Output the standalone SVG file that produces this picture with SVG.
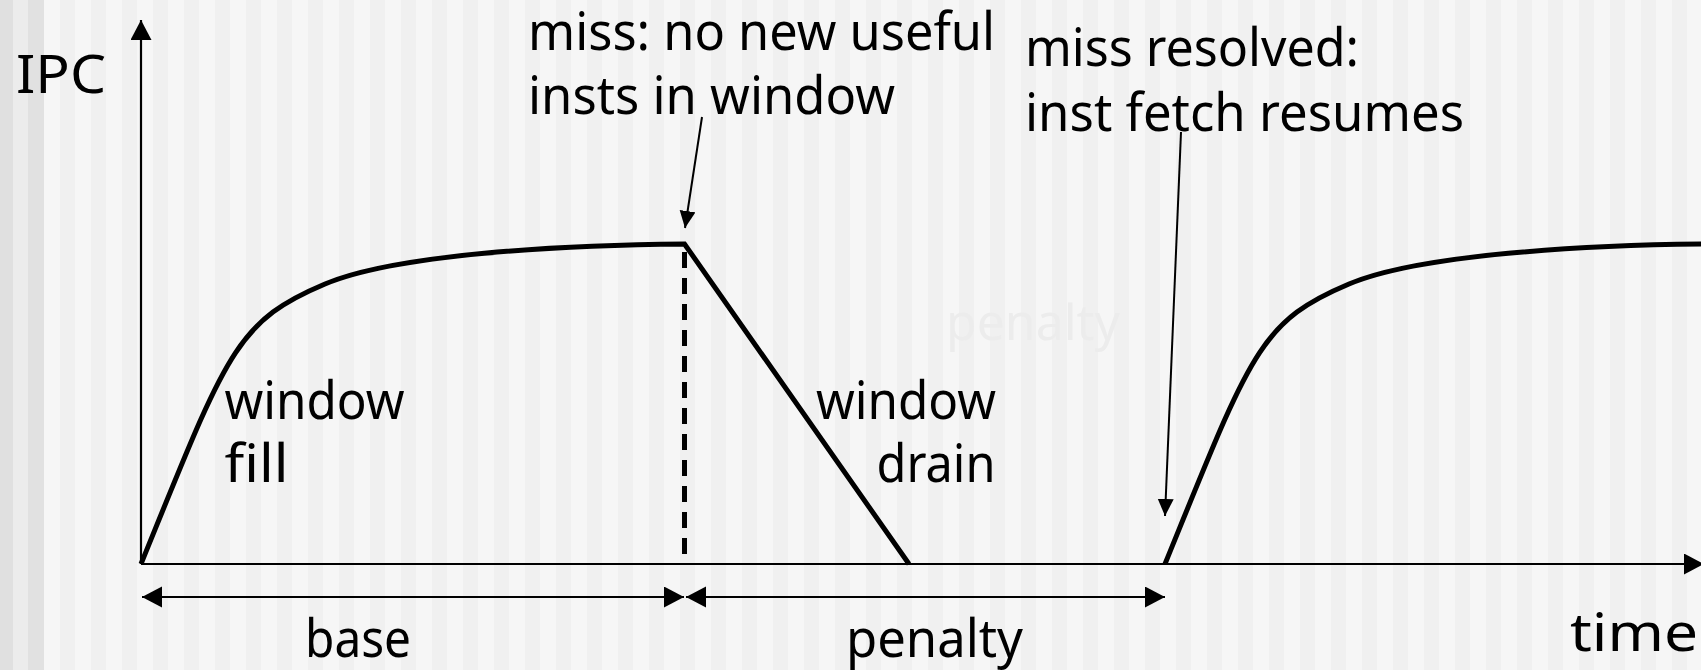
<svg xmlns="http://www.w3.org/2000/svg" width="1701" height="670" viewBox="0 0 1701 670">
  <defs>
    <pattern id="stripes" x="44" y="0" width="31" height="20" patternUnits="userSpaceOnUse">
      <rect x="0" y="0" width="15.5" height="20" fill="#f6f6f6"/>
      <rect x="15.5" y="0" width="15.5" height="20" fill="#f0f0f0"/>
    </pattern>
    <marker id="head" markerUnits="userSpaceOnUse" markerWidth="22" markerHeight="22" refX="20" refY="10.5" orient="auto-start-reverse">
      <path d="M0,0 L20,10.5 L0,21 z" fill="#000"/>
    </marker>
    <marker id="pointer" markerUnits="userSpaceOnUse" markerWidth="18" markerHeight="18" refX="17" refY="8" orient="auto">
      <path d="M0,0 L17,8 L0,16 z" fill="#000"/>
    </marker>
  </defs>
  <style>
    .lbl { font-family: "Noto Sans", "Open Sans", sans-serif; font-size: 52px; fill: #000; }
    .ghost { font-family: "Noto Sans", "Open Sans", sans-serif; font-size: 50px; fill: #ececec; }
    .axis { stroke: #000; stroke-width: 2.2; fill: none; }
    .curve { stroke: #000; stroke-width: 5; fill: none; stroke-linejoin: miter; }
    .thin { stroke: #000; stroke-width: 2; fill: none; }
  </style>

  <!-- striped backdrop -->
  <rect x="0" y="0" width="1701" height="670" fill="url(#stripes)"/>
  <rect x="0" y="0" width="13" height="670" fill="#e0e0e0"/>
  <rect x="13" y="0" width="15" height="670" fill="#ececec"/>
  <rect x="28" y="0" width="16" height="670" fill="#e1e1e1"/>

  <!-- faint watermark word -->
  <text class="ghost" x="946" y="340" textLength="174" lengthAdjust="spacingAndGlyphs">penalty</text>

  <!-- axes -->
  <g id="axes">
    <line class="axis" x1="141" y1="564" x2="141" y2="20" marker-end="url(#head)"/>
    <line class="axis" x1="141" y1="564" x2="1704" y2="564" marker-end="url(#head)"/>
    <text id="ipc" class="lbl" x="16" y="93" textLength="90" lengthAdjust="spacingAndGlyphs">IPC</text>
    <text id="time" class="lbl" x="1570" y="651" textLength="128" lengthAdjust="spacingAndGlyphs">time</text>
  </g>

  <!-- IPC trace: fill, plateau, drain, stall, refill -->
  <g id="trace">
    <path class="curve" d="M141,564 C226.8,353.4 235,321.8 325,284 C395,254.6 560,245 684.5,244 L909,564"/>
    <path class="curve" d="M1165,564 C1250.8,353.4 1259,321.8 1349,284 C1419,254.6 1584,245 1708.5,244"/>
    <line x1="684.5" y1="252" x2="684.5" y2="554" stroke="#000" stroke-width="5" stroke-dasharray="16,10"/>
  </g>

  <g id="window-fill">
    <text class="lbl" x="224.5" y="419" textLength="180" lengthAdjust="spacingAndGlyphs">window</text>
    <text class="lbl" x="224.5" y="482" textLength="64" lengthAdjust="spacingAndGlyphs">fill</text>
  </g>

  <g id="window-drain">
    <text class="lbl" x="816" y="419" textLength="180" lengthAdjust="spacingAndGlyphs">window</text>
    <text class="lbl" x="876.5" y="482" textLength="119" lengthAdjust="spacingAndGlyphs">drain</text>
  </g>

  <g id="miss-note">
    <text class="lbl" x="528" y="50" textLength="467" lengthAdjust="spacingAndGlyphs">miss: no new useful</text>
    <text class="lbl" x="528" y="114" textLength="367" lengthAdjust="spacingAndGlyphs">insts in window</text>
  </g>

  <g id="resolved-note">
    <text class="lbl" x="1025" y="66" textLength="334" lengthAdjust="spacingAndGlyphs">miss resolved:</text>
    <text class="lbl" x="1025" y="131" textLength="439" lengthAdjust="spacingAndGlyphs">inst fetch resumes</text>
  </g>

  <g id="base-label">
    <text class="lbl" x="305" y="657" textLength="106" lengthAdjust="spacingAndGlyphs">base</text>
  </g>

  <g id="penalty-label">
    <text class="lbl" x="846" y="657" textLength="177" lengthAdjust="spacingAndGlyphs">penalty</text>
  </g>

  <!-- pointers and span markers -->
  <g id="connectors">
    <line class="thin" x1="702" y1="117" x2="685" y2="228" marker-end="url(#pointer)"/>
    <line class="thin" x1="1181" y1="132" x2="1165" y2="516" marker-end="url(#pointer)"/>
    <line class="thin" x1="142" y1="597" x2="684" y2="597" marker-start="url(#head)" marker-end="url(#head)"/>
    <line class="thin" x1="686" y1="597" x2="1165" y2="597" marker-start="url(#head)" marker-end="url(#head)"/>
  </g>
</svg>
